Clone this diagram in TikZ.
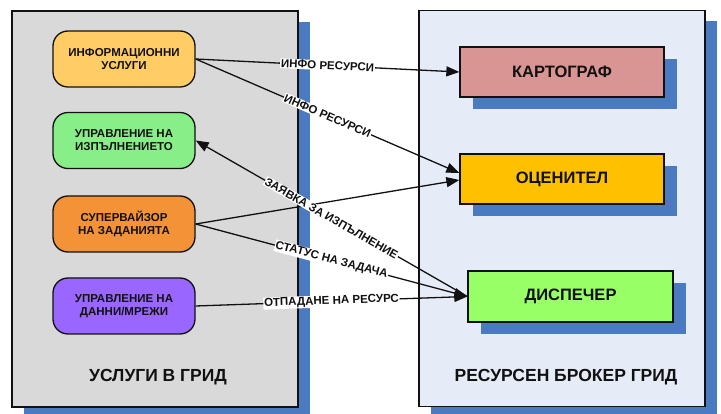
\documentclass[tikz,border=0pt]{standalone}
\usepackage{fontspec}
\setmainfont{Liberation Sans}
\usetikzlibrary{arrows.meta,shadows}

\definecolor{panelgray}{HTML}{D9D9D9}
\definecolor{panelblue}{HTML}{E6ECF7}
\definecolor{shadowblue}{HTML}{4A7BC1}
\definecolor{infoorange}{HTML}{FFCC66}
\definecolor{execgreen}{HTML}{88EE88}
\definecolor{superorange}{HTML}{F39237}
\definecolor{datapurple}{HTML}{9966FF}
\definecolor{maprose}{HTML}{D99594}
\definecolor{evalgold}{HTML}{FFC000}
\definecolor{dispgreen}{HTML}{99FF66}
\definecolor{inkblack}{HTML}{111111}

\tikzset{
  panel/.style={draw=inkblack, line width=1.5pt, minimum width=286pt, minimum height=396pt, inner sep=0pt,
    general shadow={fill=shadowblue, shadow xshift=11.5pt, shadow yshift=-11pt}},
  service/.style={draw=inkblack, line width=1.3pt, rounded corners=15pt, minimum width=142pt, minimum height=56pt,
    align=center, font=\fontsize{11.5}{13}\selectfont\bfseries, text=inkblack, inner sep=2pt},
  broker/.style={draw=inkblack, line width=1.3pt, minimum width=204pt, minimum height=50pt,
    font=\fontsize{16.5}{18}\selectfont\bfseries, text=inkblack,
    general shadow={fill=shadowblue, shadow xshift=12.5pt, shadow yshift=-12.5pt}},
  title/.style={font=\fontsize{17.5}{20}\selectfont\bfseries, text=inkblack},
  flow/.style={draw=inkblack, line width=1.3pt, -{Triangle[length=13pt,width=10pt]}},
  tag/.style={font=\fontsize{11.5}{12}\selectfont\bfseries, text=inkblack, fill=white, inner sep=0.8pt, sloped, midway}
}

\begin{document}
\begin{tikzpicture}[x=1pt,y=-1pt]
  \useasboundingbox (0,0) rectangle (721,414);
  \clip (0,0) rectangle (721,414);

  % the two panels
  \node[panel, fill=panelgray] (grid) at (155,209) {};
  \node[panel, fill=panelblue] (brokerpanel) at (562,208.5) {};
  \node[title] (gridtitle) at (158,377) {УСЛУГИ В ГРИД};
  \node[title] (brokertitle) at (566,377) {РЕСУРСЕН БРОКЕР ГРИД};

  % grid services
  \node[service, fill=infoorange] (info) at (124,59) {ИНФОРМАЦИОННИ\\УСЛУГИ};
  \node[service, fill=execgreen] (exec) at (124,140.5) {УПРАВЛЕНИЕ НА\\ИЗПЪЛНЕНИЕТО};
  \node[service, fill=superorange] (super) at (124,224) {СУПЕРВАЙЗОР\\НА ЗАДАНИЯТА};
  \node[service, fill=datapurple] (data) at (124,306) {УПРАВЛЕНИЕ НА\\ДАННИ/МРЕЖИ};

  % resource broker parts
  \node[broker, fill=maprose] (mapper) at (562,72) {КАРТОГРАФ};
  \node[broker, fill=evalgold] (evaluator) at (562,179) {ОЦЕНИТЕЛ};
  \node[broker, fill=dispgreen, minimum width=205pt, minimum height=51pt] (dispatcher) at (570.5,296.5) {ДИСПЕЧЕР};

  % message flows
  \draw[flow] (info.east) -- node[tag] {ИНФО РЕСУРСИ} (mapper.west);
  \draw[flow] (info.east) -- node[tag] {ИНФО РЕСУРСИ} ([yshift=6pt]evaluator.west);
  \draw[flow] (super.east) -- ([yshift=-1pt]evaluator.west);
  \draw[flow] (dispatcher.west) -- node[tag] {ЗАЯВКА ЗА ИЗПЪЛНЕНИЕ} (exec.east);
  \draw[flow] (super.east) -- node[tag] {СТАТУС НА ЗАДАЧА} (dispatcher.west);
  \draw[flow] (data.east) -- node[tag] {ОТПАДАНЕ НА РЕСУРС} (dispatcher.west);
\end{tikzpicture}
\end{document}
